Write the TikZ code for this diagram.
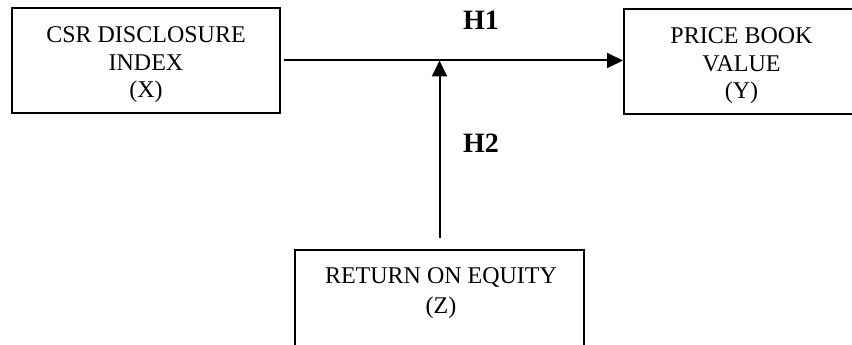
\documentclass[tikz,border=0pt]{standalone}
\usepackage{fontspec}
\setmainfont{Liberation Serif}
\usetikzlibrary{arrows.meta}
\begin{document}
\begin{tikzpicture}[x=1pt,y=-1pt,
  box/.style={draw=black, line width=2pt, inner sep=0pt},
  txt/.style={align=center, inner sep=0pt, font=\fontsize{24}{27.5}\selectfont},
  lbl/.style={font=\fontsize{28}{30}\selectfont\bfseries, inner sep=0pt},
  conn/.style={line width=2pt, -{Triangle[length=16pt,width=15pt]}}]
\useasboundingbox (0,0) rectangle (852,345);
\node[box, minimum width=268pt, minimum height=105pt] (x) at (146,60.5) {};
\node[txt] (xt) at (146,65) {CSR DISCLOSURE\\INDEX\\(X)};
\node[box, minimum width=235pt, minimum height=105pt] (y) at (741.5,61.5) {};
\node[txt] (yt) at (741.5,66) {PRICE BOOK\\VALUE\\(Y)};
\node[box, minimum width=289pt, minimum height=120pt, anchor=north] (z) at (439.5,249) {};
\node[txt, font=\fontsize{24}{30}\selectfont] (zt) at (441,293) {RETURN ON EQUITY\\(Z)};
\coordinate (m) at (439.5,60.5);
\draw[conn, shorten <=3pt] (x.east) -- (x.east -| y.west);
\draw[conn, shorten <=11pt] (z.north) -- (m);
\node[lbl] (h1) at (481,20) {H1};
\node[lbl] (h2) at (481,143) {H2};
\end{tikzpicture}
\end{document}
